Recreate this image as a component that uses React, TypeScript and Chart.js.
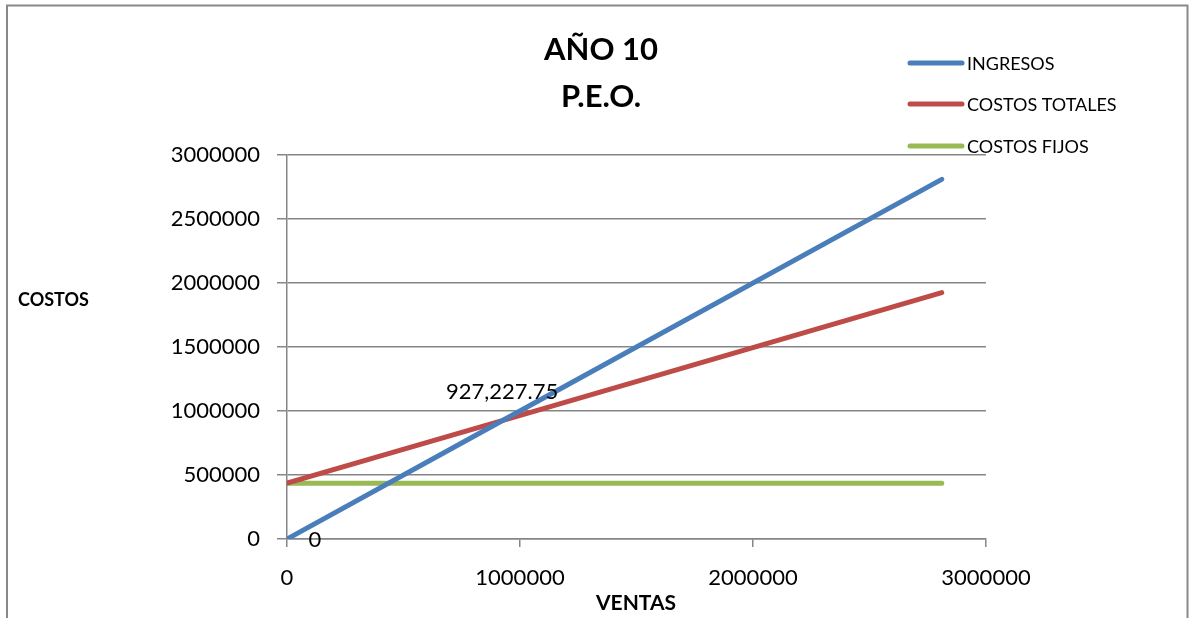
import React, { useEffect, useRef } from "react";
import { Chart, registerables } from "chart.js";

Chart.register(...registerables);

const ventas = [0, 927227.75, 2810000];
const ingresos = [0, 927227.75, 2810000];
const costosTotales = [436000, 927227.75, 1925000];
const costosFijos = [436000, 436000, 436000];
const seriesNames = ["INGRESOS", "COSTOS TOTALES", "COSTOS FIJOS"];
const seriesColors = ["#4a7ebb", "#be4b48", "#98b954"];
const titleLines = ["AÑO 10", "P.E.O."];
const pointLabels = ["0", "927,227.75"];

const FONT = "Lato";

const decorPlugin = {
  id: "decor",
  beforeDraw(chart: any) {
    const ctx = chart.ctx;
    ctx.save();
    ctx.strokeStyle = "#898989";
    ctx.lineWidth = 2;
    ctx.beginPath();
    ctx.moveTo(7, 700);
    ctx.lineTo(7, 5.5);
    ctx.lineTo(1187.5, 5.5);
    ctx.lineTo(1187.5, 700);
    ctx.stroke();
    ctx.restore();
  },
  afterDraw(chart: any) {
    const ctx = chart.ctx;
    ctx.save();
    // title
    ctx.fillStyle = "#000";
    ctx.textAlign = "center";
    ctx.textBaseline = "middle";
    ctx.font = `bold 31px ${FONT}`;
    ctx.fillText(titleLines[0], 601, 50);
    ctx.fillText(titleLines[1], 601, 97);
    // legend
    ctx.font = `18px ${FONT}`;
    ctx.textAlign = "left";
    const ys = [63, 104, 146];
    chart.data.datasets.forEach((ds: any, i: number) => {
      ctx.strokeStyle = ds.borderColor;
      ctx.lineWidth = 5;
      ctx.lineCap = "round";
      ctx.beginPath();
      ctx.moveTo(910, ys[i]);
      ctx.lineTo(962, ys[i]);
      ctx.stroke();
      ctx.fillStyle = "#000";
      ctx.fillText(ds.label, 967, ys[i] + 1);
    });
    // axis titles
    ctx.font = `bold 18px ${FONT}`;
    ctx.textAlign = "left";
    ctx.fillText("COSTOS", 18, 300);
    ctx.font = `bold 21px ${FONT}`;
    ctx.textAlign = "center";
    ctx.fillText("VENTAS", 636, 603);
    // data labels
    const meta = chart.getDatasetMeta(0);
    ctx.font = `22px ${FONT}`;
    const p0 = meta.data[0];
    const p1 = meta.data[1];
    ctx.fillText(pointLabels[0], p0.x + 28, p0.y + 1);
    ctx.fillText(pointLabels[1], p1.x - 1, p1.y - 28);
    ctx.restore();
  },
};

export default function App() {
  const ref = useRef<HTMLCanvasElement | null>(null);
  useEffect(() => {
    document.body.style.margin = "0";
    const canvas = ref.current!;
    const mk = (ys: number[]) => ventas.map((x, i) => ({ x, y: ys[i] }));
    const chart = new Chart(canvas, {
      type: "scatter",
      data: {
        datasets: [ingresos, costosTotales, costosFijos].map((d, i) => ({
          label: seriesNames[i],
          data: mk(d),
          showLine: true,
          borderColor: seriesColors[i],
          backgroundColor: seriesColors[i],
          borderWidth: 5,
          borderCapStyle: "round",
          pointRadius: 0,
          pointHoverRadius: 0,
        })),
      },
      options: {
        responsive: false,
        animation: false,
        events: [],
        layout: { padding: { left: 0, top: 155, right: 203, bottom: 0 } },
        plugins: { legend: { display: false }, title: { display: false }, tooltip: { enabled: false } },
        scales: {
          x: {
            type: "linear",
            min: 0,
            max: 3000000,
            afterFit: (s: any) => { s.height = 79; },
            ticks: { stepSize: 1000000, color: "#000", font: { family: FONT, size: 22 }, padding: 18, maxRotation: 0, callback: (v: any) => String(v) },
            grid: { drawOnChartArea: false, drawTicks: true, tickLength: 8, color: "#868686", lineWidth: 1.5 },
            border: { color: "#868686", width: 1.5 },
          },
          y: {
            type: "linear",
            min: 0,
            max: 3000000,
            afterFit: (s: any) => { s.width = 287; },
            ticks: { stepSize: 500000, color: "#000", font: { family: FONT, size: 22 }, padding: 17, callback: (v: any) => String(v) },
            grid: { drawTicks: true, tickLength: 10, color: "#868686", lineWidth: 1.5 },
            border: { color: "#868686", width: 1.5 },
          },
        },
      },
      plugins: [decorPlugin],
    });
    return () => chart.destroy();
  }, []);
  return <canvas ref={ref} width={1189} height={618} style={{ display: "block" }} />;
}
